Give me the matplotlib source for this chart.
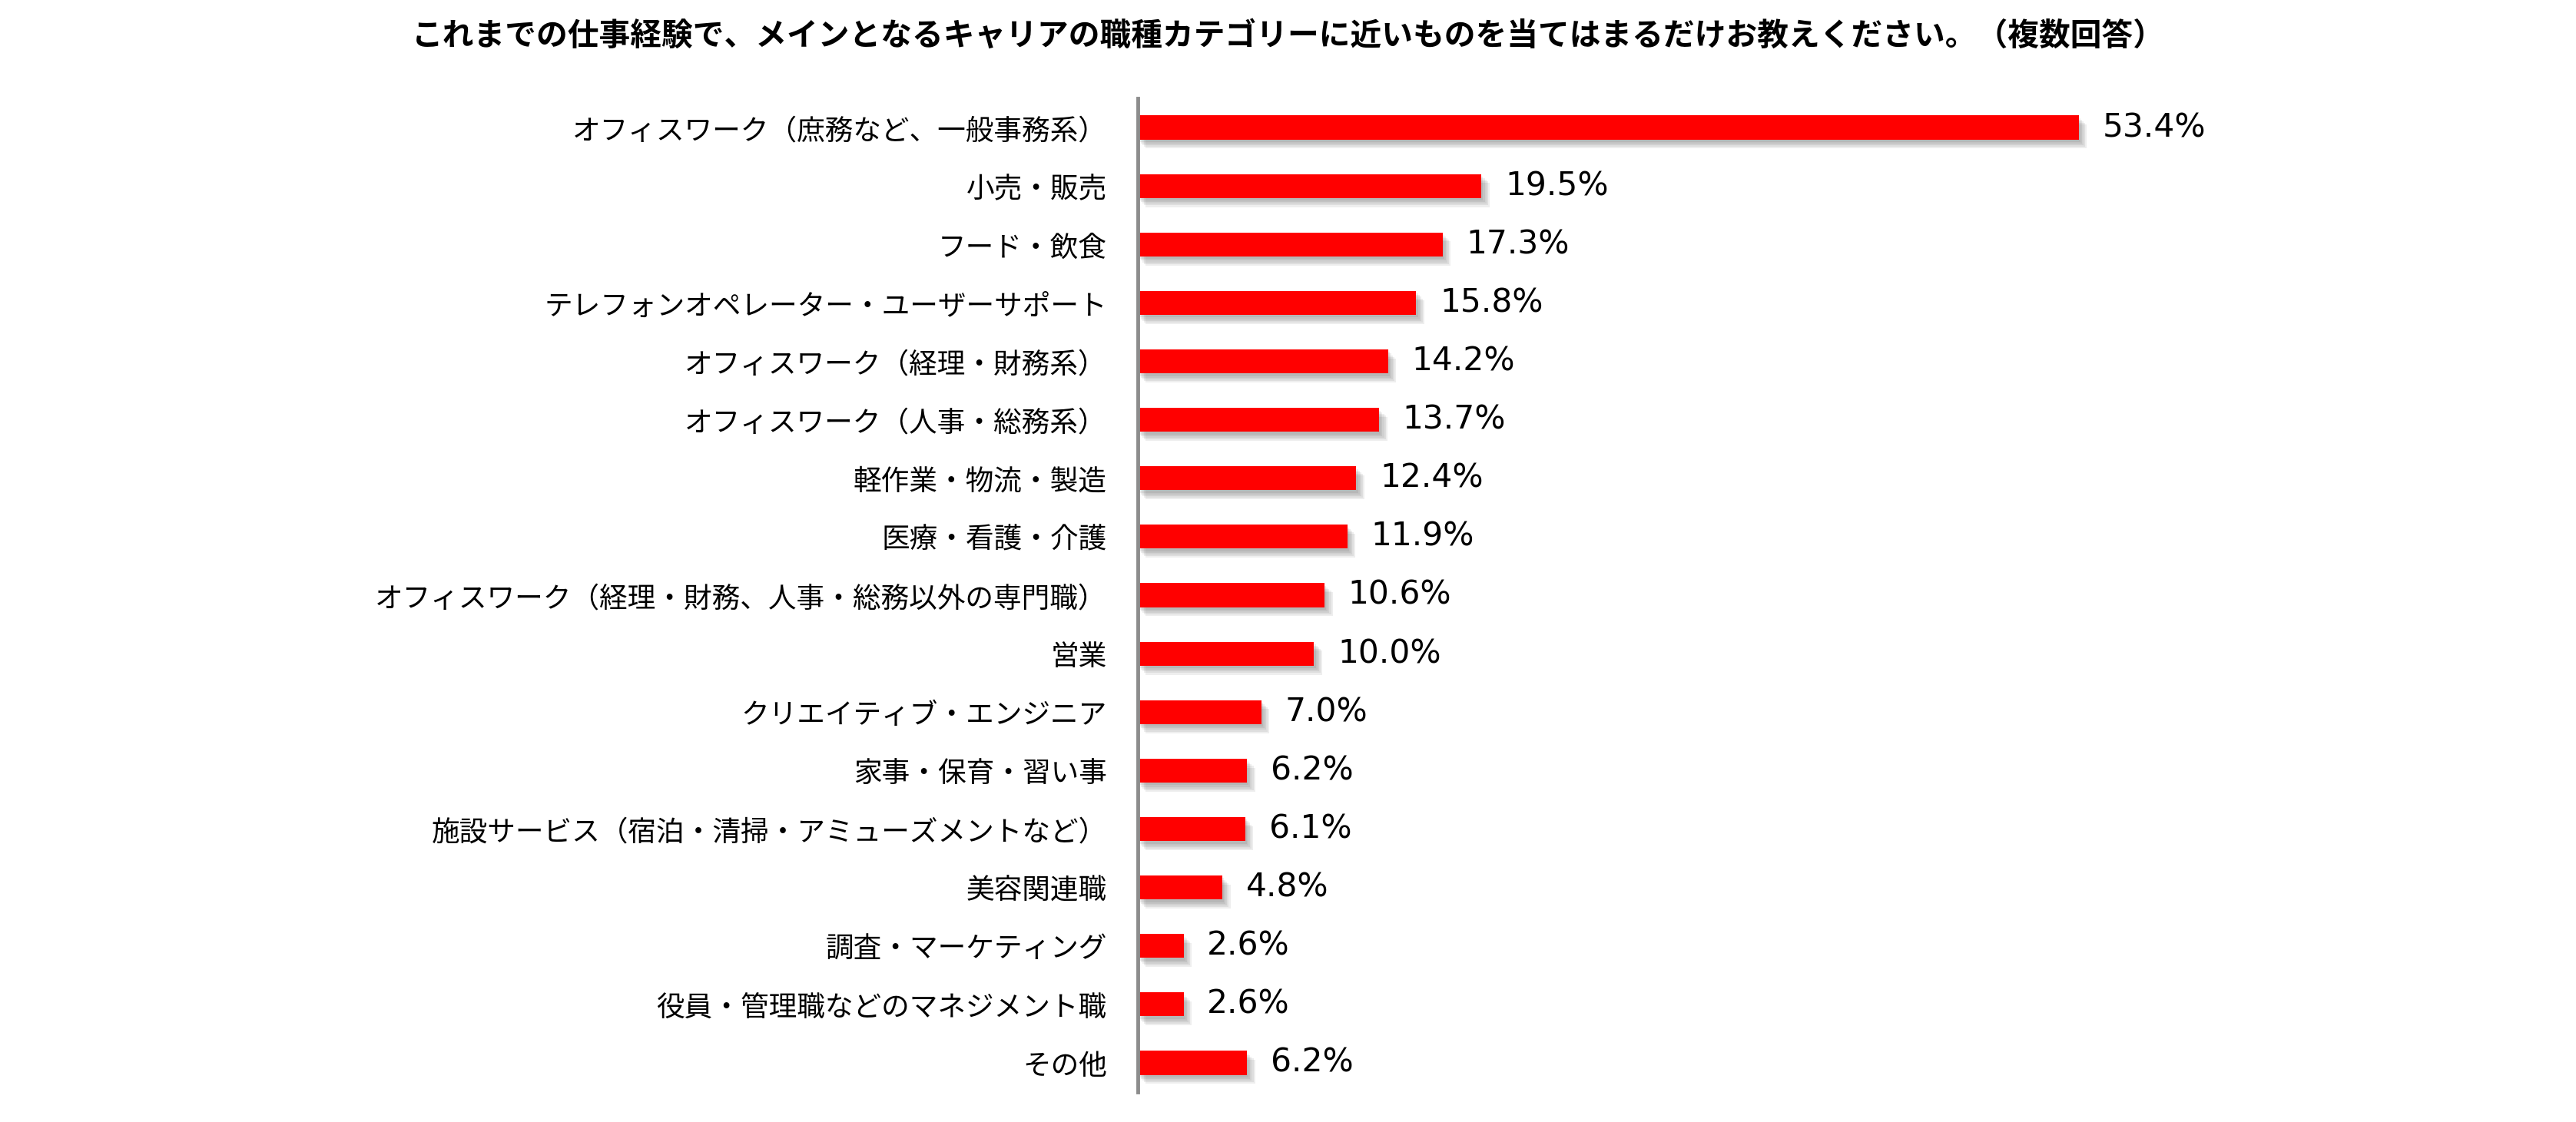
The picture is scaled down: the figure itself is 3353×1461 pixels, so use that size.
import matplotlib
matplotlib.use("Agg")
import matplotlib.pyplot as plt
import matplotlib.patheffects as pe

plt.rcParams['font.family'] = ['Noto Sans CJK JP', 'DejaVu Sans']

title = "これまでの仕事経験で、メインとなるキャリアの職種カテゴリーに近いものを当てはまるだけお教えください。（複数回答）"

categories = [
    "オフィスワーク（庶務など、一般事務系）",
    "小売・販売",
    "フード・飲食",
    "テレフォンオペレーター・ユーザーサポート",
    "オフィスワーク（経理・財務系）",
    "オフィスワーク（人事・総務系）",
    "軽作業・物流・製造",
    "医療・看護・介護",
    "オフィスワーク（経理・財務、人事・総務以外の専門職）",
    "営業",
    "クリエイティブ・エンジニア",
    "家事・保育・習い事",
    "施設サービス（宿泊・清掃・アミューズメントなど）",
    "美容関連職",
    "調査・マーケティング",
    "役員・管理職などのマネジメント職",
    "その他",
]
values = [53.4, 19.5, 17.3, 15.8, 14.2, 13.7, 12.4, 11.9, 10.6, 10.0,
          7.0, 6.2, 6.1, 4.8, 2.6, 2.6, 6.2]

fig = plt.figure(figsize=(33.53, 14.61), dpi=100)
ax = fig.add_axes([0.4417, 0.0267, 0.4105, 0.8857])

# soft shadow under each bar, built from a few faint offset copies
shadow = [pe.SimplePatchShadow(offset=(1.5 * i, -1.5 * i - 1), shadow_rgbFace="#444444", alpha=0.09)
          for i in range(1, 6)]

ypos = list(range(len(categories)))
bars = ax.barh(ypos, values, height=0.41, color="#FF0000", edgecolor="none", zorder=3)
for b in bars:
    b.set_path_effects(shadow + [pe.Normal()])

for y, v in zip(ypos, values):
    ax.annotate(f"{v:.1f}%", xy=(v, y), xytext=(22, 0), textcoords="offset points",
                va="center", ha="left", fontsize=30.5, family="DejaVu Sans", color="black")

ax.set_xlim(0, 60)
ax.set_ylim(len(categories) - 0.5, -0.5)
ax.set_yticks(ypos)
ax.set_yticklabels(categories, fontsize=26.4)
ax.tick_params(axis="y", length=0, pad=29)
ax.set_xticks([])

for s in ["top", "right", "bottom"]:
    ax.spines[s].set_visible(False)
ax.spines["left"].set_color("#8c8c8c")
ax.spines["left"].set_linewidth(3.5)
ax.spines["left"].set_zorder(5)

fig.text(0.5, 1 - 47 / 1461, title, ha="center", va="center", fontsize=29.3, fontweight="bold")

fig.savefig("out.png", dpi=100, facecolor="white")
